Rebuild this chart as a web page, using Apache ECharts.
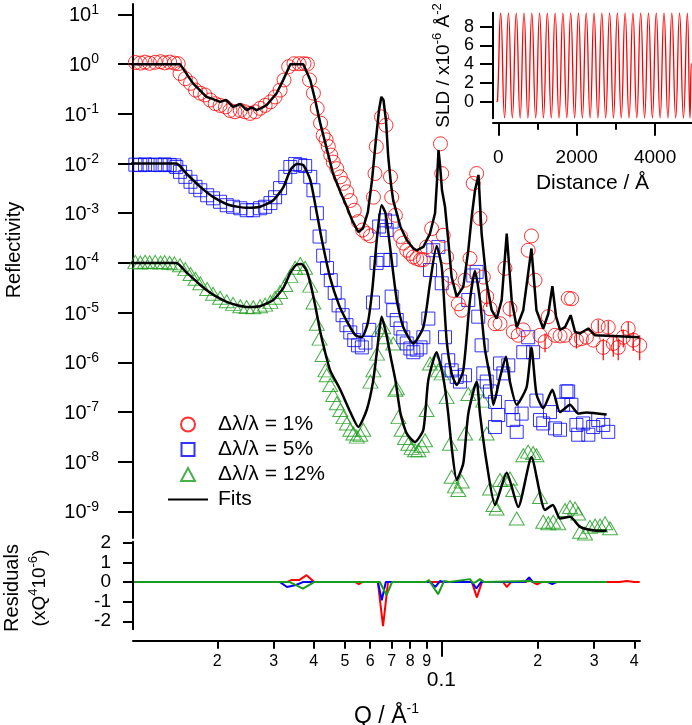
<!DOCTYPE html>
<html><head><meta charset="utf-8">
<script src="https://cdn.jsdelivr.net/npm/echarts@6/dist/echarts.min.js"></script>
<style>html,body{margin:0;padding:0;background:#fff}#c{width:692px;height:725px}</style>
</head><body><div id="c"></div>
<script>
const FONT = '"Liberation Sans", Arial, Helvetica, sans-serif';

// ---------- DATA (Q in 1/Å, reflectivity as plotted, offsets included) ----------
const nameRed = 'Δλ/λ = 1%';
const nameBlue = 'Δλ/λ = 5%';
const nameGreen = 'Δλ/λ = 12%';
const nameFit = 'Fits';

const dataRed = [[0.0111,1.08],[0.0115,1.05],[0.0119,1.10],[0.0123,1.04],[0.0128,1.09],[0.0133,1.12],[0.0137,1.06],[0.0142,1.10],[0.0147,1.05],[0.0151,1.02],
[0.0153,0.65],[0.0159,0.51],[0.0165,0.41],[0.0171,0.30],[0.0177,0.26],[0.0183,0.24],[0.0190,0.19],[0.0197,0.16],[0.0204,0.148],[0.0212,0.138],
[0.0219,0.117],[0.0227,0.110],[0.0236,0.117],[0.0244,0.110],[0.0253,0.102],[0.0263,0.110],[0.0272,0.129],[0.0282,0.148],[0.0293,0.174],[0.0303,0.219],
[0.0314,0.30],[0.0323,0.48],[0.0334,0.89],[0.0347,1.02],[0.0360,1.02],[0.0373,1.02],[0.0382,1.0],[0.0388,0.48],[0.0399,0.26],[0.0410,0.129],
[0.0420,0.065],[0.0428,0.037],[0.0437,0.030],[0.0444,0.022],[0.0452,0.0148],[0.0460,0.0107],[0.0472,0.0079],[0.0484,0.0054],[0.0495,0.0040],[0.0507,0.0027],
[0.0520,0.0018],[0.0535,0.00115],[0.0551,6.8e-4],[0.0568,4.6e-4],[0.0585,3.9e-4],[0.0601,3.5e-4],[0.0614,0.0021],[0.0621,0.0063],[0.0627,0.022],[0.0651,0.087],
[0.0672,0.059],[0.0694,0.0054],[0.0700,0.0021],[0.0719,9.1e-4],[0.0746,3.4e-4],[0.0761,2.5e-4],[0.0780,1.8e-4],[0.0801,1.55e-4],[0.0818,1.32e-4],[0.0838,1.23e-4],
[0.0861,1.15e-4],[0.0879,1.17e-4],[0.0900,2.1e-4],[0.0933,4.9e-4],[0.0994,0.025],[0.1003,0.0063],[0.1014,3.6e-4],[0.1039,1.32e-4],[0.1064,5.6e-5],[0.1090,2.8e-5],
[0.1130,1.5e-5],[0.1158,1.12e-5],[0.1186,4.5e-5],[0.1229,1.23e-4],[0.1258,0.0040],[0.1289,0.0063],[0.1320,7.9e-4],[0.1352,5.2e-5],[0.1386,2.1e-5],[0.1419,1.2e-5],
[0.1471,6.0e-6],[0.1525,6.0e-6],[0.1580,7.8e-5],[0.1638,1.2e-5],[0.1677,4.1e-6],[0.1738,3.5e-6],[0.1802,4.5e-6],[0.1867,1.8e-4],[0.1911,3.5e-4],[0.1961,4.5e-5],
[0.2032,3.5e-6],[0.2107,2.6e-6],[0.2157,8.3e-6],[0.2264,3.5e-6],[0.2347,3.4e-6],[0.2432,3.5e-6],[0.2490,1.95e-5],[0.2550,1.9e-5],[0.2640,2.8e-6],[0.2736,3.0e-6],
[0.2837,3.2e-6],[0.2979,2.8e-6],[0.3088,5.4e-6],[0.3201,2.0e-6],[0.3318,5.1e-6],[0.3440,2.4e-6],[0.3565,2.0e-6],[0.3696,3.2e-6],[0.3831,4.8e-6],[0.3970,2.8e-6],[0.4160,2.2e-6]];

// error bars on some of the 1% points: [Q, low, high]
const errRed = [[0.1320,5.5e-4,1.1e-3],[0.1386,1.3e-5,3.2e-5],[0.1638,8.0e-6,1.7e-5],[0.2107,1.6e-6,3.8e-6],[0.2640,1.9e-6,3.9e-6],[0.3088,3.9e-6,7.2e-6],
[0.3201,1.1e-6,3.0e-6],[0.3318,3.6e-6,6.8e-6],[0.3440,1.3e-6,3.6e-6],[0.3565,1.1e-6,3.0e-6],[0.3696,2.0e-6,4.6e-6],[0.3831,3.3e-6,6.5e-6],[0.3970,1.7e-6,4.1e-6],[0.4160,1.1e-6,3.5e-6]];

const dataBlue = [[0.0111,0.0095],[0.0115,0.0093],[0.0119,0.0096],[0.0123,0.0094],[0.0128,0.0095],[0.0133,0.0093],[0.0137,0.0096],[0.0142,0.0094],[0.0147,0.0092],
[0.0149,0.0085],[0.0153,0.0068],[0.0159,0.0054],[0.0165,0.0043],[0.0171,0.0034],[0.0177,0.0029],[0.0186,0.0023],[0.0194,0.0020],[0.0204,0.0017],[0.0214,0.00145],
[0.0224,0.00135],[0.0236,0.00126],[0.0247,0.00115],[0.0259,0.00115],[0.0272,0.00126],[0.0282,0.00135],[0.0293,0.0016],[0.0303,0.0021],[0.0314,0.0032],[0.0326,0.0054],
[0.0338,0.0085],[0.0350,0.0098],[0.0363,0.0093],[0.0376,0.0089],[0.0390,0.0054],[0.0399,0.0029],[0.0409,0.0010],[0.0417,3.4e-4],[0.0428,1.4e-4],[0.0440,7.9e-5],
[0.0452,4.5e-5],[0.0465,2.5e-5],[0.0478,1.4e-5],[0.0492,8.9e-6],[0.0506,5.6e-6],[0.0520,4.0e-6],[0.0535,2.8e-6],[0.0550,2.2e-6],[0.0565,2.0e-6],[0.0580,2.5e-6],
[0.0596,4.5e-6],[0.0612,1.6e-5],[0.0628,1.0e-4],[0.0640,5.4e-4],[0.0659,1.15e-4],[0.0667,7.2e-4],[0.0675,4.6e-4],[0.0694,1.15e-4],[0.0700,6.8e-4],[0.0700,2.1e-5],
[0.0708,1.12e-5],[0.0726,7.1e-6],[0.0746,4.8e-6],[0.0761,3.2e-6],[0.0780,2.4e-6],[0.0801,1.9e-6],[0.0818,1.6e-6],[0.0838,1.8e-6],[0.0861,2.0e-6],[0.0879,3.2e-6],
[0.0911,7.6e-6],[0.0922,7.2e-5],[0.0944,1.8e-4],[0.0979,2.1e-4],[0.1003,3.9e-5],[0.1027,3.2e-6],[0.1051,1.1e-6],[0.1077,6.9e-7],[0.1117,5.1e-7],[0.1144,4.1e-7],
[0.1186,5.5e-7],[0.1214,1.8e-5],[0.1258,5.6e-5],[0.1289,6.6e-5],[0.1304,8.3e-6],[0.1336,2.2e-6],[0.1352,6.0e-7],[0.1386,4.1e-7],[0.1419,2.6e-7],[0.1471,1.6e-7],
[0.1505,8.7e-8],[0.1471,5.0e-8],[0.1525,9.5e-7],[0.1562,6.0e-7],[0.1618,8.7e-7],[0.1657,1.26e-7],[0.1677,6.9e-8],[0.1719,4.0e-8],[0.1781,9.3e-8],[0.1802,1.6e-6],
[0.1867,3.2e-6],[0.1934,1.6e-6],[0.1981,1.7e-7],[0.2032,6.9e-8],[0.2080,5.9e-8],[0.2184,1.0e-7],[0.2264,4.7e-8],[0.2347,4.4e-8],[0.2399,1.4e-7],[0.2458,2.6e-7],
[0.2488,2.6e-7],[0.2547,1.4e-7],[0.2640,5.5e-8],[0.2674,3.5e-8],[0.2771,5.9e-8],[0.2876,3.5e-8],[0.2979,5.0e-8],[0.3088,6.9e-8],[0.3201,5.5e-8],[0.3318,4.0e-8]];

const dataGreen = [[0.0111,1.05e-4],[0.0115,1.02e-4],[0.0119,1.06e-4],[0.0123,1.03e-4],[0.0128,1.05e-4],[0.0133,1.02e-4],[0.0137,1.04e-4],[0.0142,1.01e-4],[0.0147,0.98e-4],
[0.0153,9.0e-5],[0.0159,7.5e-5],[0.0165,6.0e-5],[0.0171,4.8e-5],[0.0177,3.9e-5],[0.0186,3.0e-5],[0.0194,2.4e-5],[0.0204,2.0e-5],[0.0214,1.7e-5],[0.0224,1.5e-5],
[0.0236,1.35e-5],[0.0247,1.3e-5],[0.0259,1.28e-5],[0.0272,1.35e-5],[0.0282,1.45e-5],[0.0293,1.65e-5],[0.0303,2.0e-5],[0.0314,2.6e-5],[0.0326,3.6e-5],[0.0338,5.5e-5],
[0.0350,8.0e-5],[0.0363,9.5e-5],[0.0376,8.0e-5],[0.0390,3.5e-5],[0.0399,1.6e-5],[0.0409,6.0e-6],[0.0417,3.0e-6],[0.0426,1.4e-6],[0.0435,6.9e-7],[0.0439,5.5e-7],
[0.0450,3.5e-7],[0.0460,2.2e-7],[0.0472,1.5e-7],[0.0484,1.1e-7],[0.0495,7.9e-8],[0.0507,5.9e-8],[0.0520,4.4e-8],[0.0532,3.7e-8],[0.0545,3.2e-8],[0.0559,3.5e-8],
[0.0571,4.4e-8],[0.0601,4.1e-7],[0.0614,6.9e-7],[0.0630,1.5e-6],[0.0640,4.5e-6],[0.0659,5.1e-6],[0.0667,3.2e-6],[0.0708,2.4e-6],[0.0719,2.8e-7],[0.0727,3.0e-7],
[0.0735,7.9e-8],[0.0752,4.4e-8],[0.0770,3.0e-8],[0.0789,2.3e-8],[0.0808,1.9e-8],[0.0828,1.7e-8],[0.0848,1.7e-8],[0.0869,2.1e-8],[0.0890,2.7e-8],[0.0900,1.1e-7],
[0.0922,9.5e-7],[0.0956,1.1e-6],[0.0979,6.9e-7],[0.1003,6.0e-7],[0.1039,2.0e-7],[0.1064,2.3e-8],[0.1077,5.0e-9],[0.1103,3.2e-9],[0.1130,2.7e-9],[0.1158,4.0e-9],
[0.1186,3.7e-8],[0.1214,2.3e-7],[0.1289,3.0e-7],[0.1352,1.7e-7],[0.1386,3.7e-8],[0.1419,2.9e-9],[0.1454,1.35e-9],[0.1488,1.15e-9],[0.1525,4.3e-9],[0.1580,4.3e-9],
[0.1638,4.6e-9],[0.1677,2.7e-9],[0.1719,7.2e-10],[0.1802,1.35e-8],[0.1867,1.6e-8],[0.1934,1.5e-8],[0.1981,1.35e-8],[0.2032,1.95e-9],[0.2080,6.2e-10],[0.2157,5.8e-10],
[0.2235,6.2e-10],[0.2318,5.8e-10],[0.2432,1.07e-9],[0.2522,1.23e-9],[0.2614,1.15e-9],[0.2674,9.1e-10],[0.2709,3.9e-10],[0.2809,3.6e-10],[0.2911,4.9e-10],[0.3018,5.2e-10],
[0.3128,5.2e-10],[0.3243,5.8e-10],[0.3361,4.6e-10]];

const fitRed = [[0.0107,1.0],[0.0153,1.0],[0.0168,0.41],[0.0185,0.22],[0.0193,0.20],[0.0204,0.174],[0.0213,0.19],[0.0224,0.138],[0.0236,0.158],[0.0247,0.119],
[0.0256,0.135],[0.0265,0.119],[0.0274,0.130],[0.0285,0.150],[0.0306,0.257],[0.0321,0.477],[0.0338,1.0],[0.0371,1.0],[0.0390,0.48],[0.0404,0.19],
[0.0419,0.065],[0.0439,0.020],[0.0459,0.0064],[0.0484,0.0027],[0.0507,0.00135],[0.0527,7.2e-4],[0.0551,4.2e-4],[0.0570,5.0e-4],[0.0590,1.05e-3],[0.0608,4.7e-3],
[0.0625,0.030],[0.0639,0.118],[0.0650,0.22],[0.0660,0.19],[0.0672,0.074],[0.0683,0.0137],[0.0697,0.0037],[0.0708,0.0018],[0.0746,5.3e-4],[0.0780,2.9e-4],
[0.0818,1.95e-4],[0.0838,1.8e-4],[0.0879,2.1e-4],[0.0922,3.9e-4],[0.0956,1.0e-3],[0.0970,4.7e-3],[0.0980,0.0186],[0.0991,0.0093],[0.1005,0.0029],[0.1027,0.00135],
[0.1051,2.9e-4],[0.1077,5.2e-5],[0.1117,2.1e-5],[0.1171,3.3e-5],[0.1214,1.8e-4],[0.1244,8.5e-4],[0.1274,0.0029],[0.1306,0.0059],[0.1336,3.9e-4],[0.1386,3.9e-5],
[0.1436,1.12e-5],[0.1488,7.6e-6],[0.1543,1.78e-5],[0.1600,3.9e-4],[0.1658,1.78e-5],[0.1719,5.1e-6],[0.1802,1.12e-5],[0.1911,1.95e-4],[0.1981,1.12e-5],[0.2080,4.8e-6],
[0.2157,9.5e-6],[0.2221,3.4e-5],[0.2281,8.3e-6],[0.2347,4.5e-6],[0.2432,5.1e-6],[0.2533,8.9e-6],[0.2614,4.1e-6],[0.2709,3.8e-6],[0.2876,4.8e-6],[0.3018,3.5e-6],
[0.3440,3.4e-6],[0.4148,3.2e-6]];

const fitBlue = [[0.0107,0.01],[0.0149,0.01],[0.0160,6.3e-3],[0.0177,3.4e-3],[0.0194,2.14e-3],[0.0219,1.45e-3],[0.0247,1.29e-3],[0.0272,1.35e-3],[0.0299,1.82e-3],
[0.0322,3.4e-3],[0.0338,7.4e-3],[0.0354,9.8e-3],[0.0371,9.3e-3],[0.0390,4.7e-3],[0.0409,1.0e-3],[0.0424,2.9e-4],[0.0450,5.0e-5],[0.0480,1.4e-5],[0.0510,6.3e-6],
[0.0540,3.5e-6],[0.0565,3.2e-6],[0.0590,6.3e-6],[0.0610,3.2e-5],[0.0630,3.2e-4],[0.0651,1.45e-3],[0.0670,1.0e-3],[0.0694,1.8e-4],[0.0726,1.8e-5],[0.0761,5.1e-6],
[0.0818,2.4e-6],[0.0879,5.1e-6],[0.0922,3.9e-5],[0.0967,2.2e-4],[0.1003,8.3e-5],[0.1039,2.8e-6],[0.1077,6.0e-7],[0.1117,3.5e-7],[0.1171,6.9e-7],[0.1229,1.8e-5],
[0.1274,6.9e-5],[0.1320,1.8e-5],[0.1369,1.8e-6],[0.1419,5.1e-7],[0.1454,1.4e-7],[0.1525,5.0e-7],[0.1592,1.3e-6],[0.1638,4.0e-7],[0.1719,1.4e-7],[0.1846,3.2e-7],
[0.1911,2.0e-6],[0.1981,2.3e-7],[0.2080,1.2e-7],[0.2221,2.8e-7],[0.2347,1.0e-7],[0.2522,1.4e-7],[0.2674,9.3e-8],[0.2837,9.8e-8],[0.3280,8.9e-8]];

const fitGreen = [[0.0107,1.0e-4],[0.0149,1.0e-4],[0.0160,6.5e-5],[0.0177,3.6e-5],[0.0194,2.3e-5],[0.0219,1.55e-5],[0.0247,1.3e-5],[0.0272,1.35e-5],[0.0299,1.8e-5],
[0.0322,3.2e-5],[0.0338,6.3e-5],[0.0354,9.3e-5],[0.0366,9.5e-5],[0.0380,7.0e-5],[0.0392,3.5e-5],[0.0405,1.3e-5],[0.0418,4.5e-6],[0.0432,1.8e-6],[0.0450,6.9e-7],
[0.0484,2.8e-7],[0.0520,1.0e-7],[0.0551,5.0e-8],[0.0585,1.1e-7],[0.0612,4.0e-7],[0.0632,2.0e-6],[0.0651,8.3e-6],[0.0672,4.0e-6],[0.0695,1.3e-6],[0.0719,4.4e-7],
[0.0746,9.3e-8],[0.0780,3.7e-8],[0.0828,2.5e-8],[0.0879,4.4e-8],[0.0911,4.4e-7],[0.0967,1.6e-6],[0.1003,7.0e-7],[0.1027,3.0e-7],[0.1051,9.3e-8],[0.1077,2.0e-8],
[0.1117,4.3e-9],[0.1171,9.3e-9],[0.1214,9.3e-8],[0.1289,4.1e-7],[0.1320,9.3e-8],[0.1386,9.3e-9],[0.1471,1.35e-9],[0.1600,6.0e-9],[0.1738,1.23e-9],[0.1911,1.23e-8],
[0.2107,1.07e-9],[0.2229,1.35e-9],[0.2347,7.2e-10],[0.2522,7.8e-10],[0.2709,4.9e-10],[0.2979,4.2e-10],[0.3280,4.1e-10]];

// residuals (x Q^4, units of 1e-6)
const resRed = [[0.0110,0],[0.0330,0],[0.0340,0.1],[0.0360,0.1],[0.0380,0.35],[0.0401,0],[0.0540,0],[0.0553,-0.1],[0.0566,0],[0.0634,0],[0.0658,-2.25],[0.0682,0],
[0.1246,0],[0.1291,-0.78],[0.1339,0],[0.1560,0],[0.1600,-0.25],[0.1650,0],[0.1840,0],[0.1880,0.17],[0.1930,0],[0.1990,-0.12],[0.2050,0],[0.3600,0],[0.3790,0.05],[0.4000,0],[0.4160,0]];
const resBlue = [[0.0110,0],[0.0314,0],[0.0330,-0.25],[0.0352,-0.15],[0.0370,0],[0.0634,0],[0.0652,-0.93],[0.0671,0],[0.0922,0],[0.0959,-0.25],[0.0990,0.05],[0.1020,0],
[0.1246,0],[0.1287,-0.33],[0.1330,0],[0.1820,0],[0.1880,0.24],[0.1930,0],[0.2150,0],[0.2220,-0.1],[0.2290,0],[0.3290,0]];
const resGreen = [[0.0110,0],[0.0337,0],[0.0370,-0.33],[0.0401,0],[0.0643,0],[0.0675,-0.67],[0.0702,0],[0.0895,0],[0.0915,0.1],[0.0977,-0.62],[0.1020,0.05],[0.1060,0],
[0.1229,0.15],[0.1255,-0.05],[0.1280,0],[0.1320,0.15],[0.1360,0],[0.1890,0.05],[0.1950,0],[0.3290,0]];

// SLD profile (inset)
const sldDistance = [-45,-20,61,160,259,358,458,557,656,755,855,954,1053,1152,1251,1351,1450,1549,1648,1747,1847,1946,2045,2144,2243,2343,2442,2541,2640,2739,2839,2938,3037,3136,3235,3335,3434,3533,3632,3731,3831,3930,4029,4128,4227,4327,4426,4525,4624,4723,4822,4890,4925,4941];
const sldValue = [0,0.1,9.45,-1.72,9.45,-1.72,9.45,-1.72,9.45,-1.72,9.45,-1.72,9.45,-1.72,9.45,-1.72,9.45,-1.72,9.45,-1.72,9.45,-1.72,9.45,-1.72,9.45,-1.72,9.45,-1.72,9.45,-1.72,9.45,-1.72,9.45,-1.72,9.45,-1.72,9.45,-1.72,9.45,-1.72,9.45,-1.72,9.45,-1.72,9.45,-1.72,9.45,-1.72,9.45,-1.72,9.45,-1.72,4.1,4.1];

// tick values / labels
const qMinorTicks = [0.02,0.03,0.04,0.05,0.06,0.07,0.08,0.09,0.2,0.3,0.4];
const qMinorLabels = ['2','3','4','5','6','7','8','9','2','3','4'];
const qMajorTicks = [0.1];
const qMajorLabels = ['0.1'];
const reflExponents = [-9,-8,-7,-6,-5,-4,-3,-2,-1,0,1];
const residualTicks = [-2,-1,0,1,2];
const sldTicks = [0,2,4,6,8];
const distTicks = [0,2000,4000];
const distMinorTicks = [1000,3000];

// ---------- BUILD ----------
const L = Math.log10;
const logPairs = a => a.map(p => [L(p[0]), L(p[1])]);
const resPairs = a => a.map(p => [L(p[0]), p[1]]);
const sldPairs = sldDistance.map((d, i) => [d, sldValue[i]]);
const errData = errRed.map(e => [L(e[0]), L(e[1]), L(e[2])]);

const QMIN = -1.962, QMAX = -0.380;   // log10 Q extent
const RMIN = -9.534, RMAX = 1.21;     // log10 R extent

const black = '#000';
const RED = '#ff0000', BLUE = '#0000ff', GREEN = '#1c9c1c';
const lineAx = {show: true, onZero: false, lineStyle: {color: black, width: 2}};
const noSplit = {show: false};

function qLabel(v) {
  let i = qMinorTicks.findIndex(q => Math.abs(L(q) - v) < 1e-6);
  return i >= 0 ? qMinorLabels[i] : '';
}

const supRich = (big, small, raise) => ({
  n: {fontSize: big, fontFamily: FONT, color: black, verticalAlign: 'bottom', lineHeight: big + 3},
  s: {fontSize: small, fontFamily: FONT, color: black, verticalAlign: 'bottom', lineHeight: small, padding: [0, 0, raise, 0]}
});

// legend icons drawn inside a 40x14 box (invisible move-to corners keep the aspect)
const ICON_SQUARE = 'path://M0,0M40,14M13.5,0.5L26.5,0.5L26.5,13.5L13.5,13.5Z';
const ICON_TRIANGLE = 'path://M0,0M40,14M20,0.5L27,13.5L13,13.5Z';
const ICON_CIRCLE = 'circle';

const option = {
  animation: false,
  backgroundColor: '#fff',
  textStyle: {fontFamily: FONT, color: black},
  legend: {
    orient: 'vertical', left: 167, top: 414, padding: 0,
    itemWidth: 40, itemHeight: 14, itemGap: 4, selectedMode: false,
    textStyle: {fontSize: 21, color: black, fontFamily: FONT, padding: [0, 0, 0, 5]},
    data: [
      {name: nameRed, icon: ICON_CIRCLE},
      {name: nameBlue, icon: ICON_SQUARE},
      {name: nameGreen, icon: ICON_TRIANGLE},
      {name: nameFit, itemStyle: {opacity: 0}}
    ]
  },
  grid: [
    {left: 133, top: 4, width: 507, height: 534, containLabel: false, outerBoundsMode: 'none'},
    {left: 133, top: 541.7, width: 507, height: 87.6, containLabel: false, outerBoundsMode: 'none'},
    {left: 493, top: 12.7, width: 199, height: 105.6, containLabel: false, outerBoundsMode: 'none'}
  ],
  xAxis: [
    {gridIndex: 0, type: 'value', min: QMIN, max: QMAX, show: false, position: 'bottom', splitLine: noSplit},
    {gridIndex: 1, type: 'value', min: QMIN, max: QMAX, position: 'bottom', offset: 11.4,
      axisLine: lineAx, splitLine: noSplit,
      axisTick: {show: true, customValues: qMinorTicks.map(L), length: 8, lineStyle: {color: black, width: 2}},
      axisLabel: {show: true, customValues: qMinorTicks.map(L), formatter: qLabel, fontSize: 16, margin: 13, color: black, fontFamily: FONT},
      name: '{n|Q / Å}{s|-1}', nameLocation: 'middle', nameGap: 61,
      nameTextStyle: {color: black, rich: supRich(23, 14, 12)}
    },
    {gridIndex: 1, type: 'value', min: QMIN, max: QMAX, position: 'bottom', offset: 11.4,
      axisLine: {show: false, onZero: false}, splitLine: noSplit,
      axisTick: {show: true, customValues: qMajorTicks.map(L), length: 16, lineStyle: {color: black, width: 2}},
      axisLabel: {show: true, customValues: qMajorTicks.map(L), formatter: () => qMajorLabels[0], fontSize: 21, margin: 29, color: black, fontFamily: FONT}
    },
    {gridIndex: 2, type: 'value', min: -135, max: 4941, position: 'bottom', offset: 4.4,
      axisLine: lineAx, splitLine: noSplit,
      axisTick: {show: true, customValues: distTicks, length: 13, lineStyle: {color: black, width: 2}},
      axisLabel: {show: true, customValues: distTicks, formatter: v => String(Math.round(v)), fontSize: 19, margin: 26, color: black, fontFamily: FONT},
      name: 'Distance / Å', nameLocation: 'middle', nameGap: 50,
      nameTextStyle: {fontSize: 21, color: black, fontFamily: FONT}
    },
    {gridIndex: 2, type: 'value', min: -135, max: 4941, position: 'bottom', offset: 4.4,
      axisLine: {show: false, onZero: false}, splitLine: noSplit,
      axisTick: {show: true, customValues: distMinorTicks, length: 7, lineStyle: {color: black, width: 2}},
      axisLabel: {show: false}
    }
  ],
  yAxis: [
    {gridIndex: 0, type: 'value', min: RMIN, max: RMAX, position: 'left',
      axisLine: lineAx, splitLine: noSplit,
      axisTick: {show: true, customValues: reflExponents, length: 15, lineStyle: {color: black, width: 2}},
      axisLabel: {show: true, customValues: reflExponents, margin: 34,
        formatter: v => '{n|10}{s|' + Math.round(v) + '}',
        rich: supRich(20, 14, 9)}
    },
    {gridIndex: 1, type: 'value', min: -2.41, max: 2.06, position: 'left',
      axisLine: lineAx, splitLine: noSplit,
      axisTick: {show: true, customValues: residualTicks, length: 10, lineStyle: {color: black, width: 2}},
      axisLabel: {show: true, customValues: residualTicks, fontSize: 19, margin: 22, color: black, fontFamily: FONT}
    },
    {gridIndex: 2, type: 'value', min: -1.77, max: 9.49, position: 'left',
      axisLine: lineAx, splitLine: noSplit,
      axisTick: {show: true, customValues: sldTicks, length: 13, lineStyle: {color: black, width: 2}},
      axisLabel: {show: true, customValues: sldTicks, fontSize: 18, margin: 19, color: black, fontFamily: FONT},
      name: '{n|SLD / x10}{s|-6}{n| Å}{s|-2}', nameLocation: 'middle', nameGap: 40, nameRotate: 90,
      nameTextStyle: {color: black, rich: supRich(19, 13, 9)}
    }
  ],
  series: [
    {type: 'scatter', name: nameGreen, xAxisIndex: 0, yAxisIndex: 0, data: logPairs(dataGreen),
      symbol: 'triangle', symbolSize: [15, 13], z: 2, silent: true,
      itemStyle: {color: 'transparent', borderColor: GREEN, borderWidth: 1}},
    {type: 'scatter', name: nameBlue, xAxisIndex: 0, yAxisIndex: 0, data: logPairs(dataBlue),
      symbol: 'rect', symbolSize: 13, z: 2, silent: true,
      itemStyle: {color: 'transparent', borderColor: BLUE, borderWidth: 1}},
    {type: 'scatter', name: nameRed, xAxisIndex: 0, yAxisIndex: 0, data: logPairs(dataRed),
      symbol: 'circle', symbolSize: 14, z: 2, silent: true,
      itemStyle: {color: 'transparent', borderColor: RED, borderWidth: 1}},
    {type: 'custom', name: 'errRed', xAxisIndex: 0, yAxisIndex: 0, data: errData, z: 2, silent: true,
      renderItem: (params, api) => {
        const lo = api.coord([api.value(0), api.value(1)]);
        const hi = api.coord([api.value(0), api.value(2)]);
        return {type: 'line', shape: {x1: lo[0], y1: lo[1], x2: hi[0], y2: hi[1]}, style: {stroke: RED, lineWidth: 1.2}};
      }},
    {type: 'line', name: nameFit, xAxisIndex: 0, yAxisIndex: 0, data: logPairs(fitRed),
      symbol: 'none', showSymbol: false, z: 4, silent: true,
      lineStyle: {color: black, width: 2.5}, itemStyle: {color: black}},
    {type: 'line', name: nameFit, xAxisIndex: 0, yAxisIndex: 0, data: logPairs(fitBlue),
      symbol: 'none', showSymbol: false, z: 4, silent: true, smooth: 0.2,
      lineStyle: {color: black, width: 2.5}, itemStyle: {color: black}},
    {type: 'line', name: nameFit, xAxisIndex: 0, yAxisIndex: 0, data: logPairs(fitGreen),
      symbol: 'none', showSymbol: false, z: 4, silent: true, smooth: 0.2,
      lineStyle: {color: black, width: 2.5}, itemStyle: {color: black}},
    {type: 'line', name: 'resRed', xAxisIndex: 1, yAxisIndex: 1, data: resPairs(resRed),
      symbol: 'none', z: 3, silent: true, lineStyle: {color: RED, width: 2}},
    {type: 'line', name: 'resBlue', xAxisIndex: 1, yAxisIndex: 1, data: resPairs(resBlue),
      symbol: 'none', z: 3, silent: true, lineStyle: {color: BLUE, width: 2}},
    {type: 'line', name: 'resGreen', xAxisIndex: 1, yAxisIndex: 1, data: resPairs(resGreen),
      symbol: 'none', z: 3, silent: true, lineStyle: {color: GREEN, width: 2}},
    {type: 'line', name: 'SLD', xAxisIndex: 3, yAxisIndex: 2, data: sldPairs,
      symbol: 'none', smooth: 0.5, z: 3, silent: true, lineStyle: {color: RED, width: 1.3}}
  ],
  graphic: [
    {type: 'text', x: 14, y: 250, rotation: Math.PI / 2, silent: true,
      style: {text: 'Reflectivity', fontSize: 20, fontFamily: FONT, fill: black, align: 'center', verticalAlign: 'middle'}},
    {type: 'text', x: 12, y: 588, rotation: Math.PI / 2, silent: true,
      style: {text: 'Residuals', fontSize: 20, fontFamily: FONT, fill: black, align: 'center', verticalAlign: 'middle'}},
    {type: 'text', x: 38, y: 588, rotation: Math.PI / 2, silent: true,
      style: {text: '{n|(xQ}{s|4}{n|10}{s|-6}{n|)}', fill: black, align: 'center', verticalAlign: 'middle',
        rich: {
          n: {fontSize: 19, fontFamily: FONT, fill: black, verticalAlign: 'bottom', lineHeight: 22},
          s: {fontSize: 13, fontFamily: FONT, fill: black, verticalAlign: 'bottom', lineHeight: 13, padding: [0, 0, 9, 0]}
        }}}
  ]
};

const chart = echarts.init(document.getElementById('c'), null, {renderer: 'canvas', width: 692, height: 725});
chart.setOption(option);
</script>
</body></html>
